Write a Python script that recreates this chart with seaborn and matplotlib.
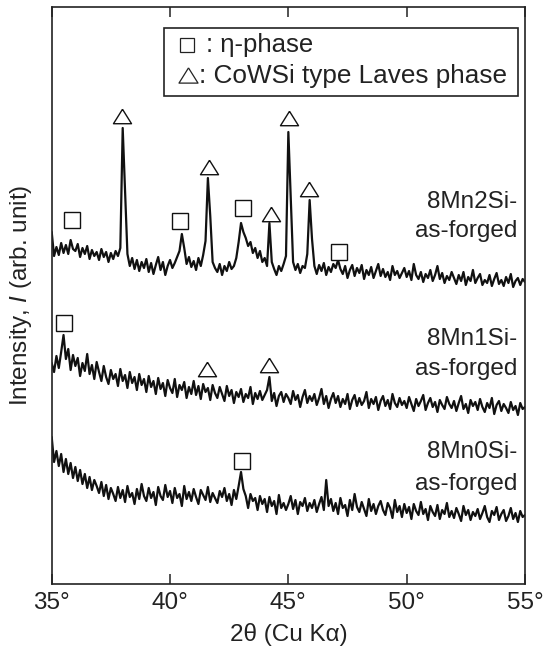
import numpy as np
import pandas as pd
import matplotlib
matplotlib.use("Agg")
import matplotlib.pyplot as plt
from matplotlib.patches import Rectangle
from matplotlib.lines import Line2D
import seaborn as sns

# ---------------- data ----------------
two_theta = [round(35 + 0.1 * i, 1) for i in range(201)]

int_8mn2si = [
    352, 328, 337, 329, 341, 331, 339, 330, 344, 335,
    333, 340, 327, 336, 330, 338, 325, 334, 328, 332,
    324, 335, 327, 332, 322, 331, 325, 333, 328, 336,
    456, 392, 330, 318, 326, 315, 324, 313, 322, 316,
    325, 312, 321, 310, 319, 327, 314, 322, 309, 318,
    324, 316, 321, 327, 333, 350, 336, 320, 327, 317,
    323, 314, 326, 318, 329, 343, 406, 368, 322, 316,
    312, 320, 309, 318, 313, 322, 315, 318, 326, 342,
    361, 352, 346, 338, 342, 331, 336, 326, 333, 322,
    326, 318, 361, 322, 315, 309, 318, 313, 320, 328,
    452, 388, 322, 314, 320, 311, 318, 316, 330, 384,
    345, 318, 310, 319, 313, 321, 309, 317, 312, 320,
    316, 324, 315, 310, 318, 306, 314, 319, 308, 316,
    311, 319, 305, 314, 309, 317, 306, 313, 320, 308,
    315, 307, 312, 304, 318, 309, 313, 306, 311, 316,
    307, 313, 304, 320, 309, 305, 312, 302, 310, 306,
    314, 303, 309, 318, 305, 311, 301, 308, 304, 312,
    306, 300, 309, 303, 312, 299, 307, 303, 314, 301,
    306, 310, 299, 304, 301, 309, 298, 305, 311, 300,
    304, 298, 307, 301, 310, 297, 303, 306, 299, 305,
    302,
]

int_8mn1si = [
    221, 212, 228, 216, 232, 249, 225, 235, 214, 229,
    218, 226, 208, 221, 213, 230, 210, 219, 205, 222,
    212, 203, 218, 207, 200, 214, 205, 210, 198, 215,
    203, 209, 196, 212, 201, 207, 194, 210, 199, 205,
    192, 208, 197, 203, 190, 206, 195, 201, 188, 204,
    196, 191, 205, 187, 199, 194, 202, 186, 197, 190,
    203, 189, 198, 185, 200, 192, 196, 184, 199, 191,
    186, 197, 190, 183, 198, 188, 194, 181, 192, 187,
    195, 182, 190, 186, 197, 180, 191, 185, 193, 184,
    189, 194, 207, 183, 191, 178, 188, 192, 182, 190,
    186, 180, 193, 184, 189, 177, 187, 194, 181, 188,
    183, 190, 179, 186, 195, 180, 188, 176, 185, 191,
    181, 188, 177, 185, 180, 190, 175, 184, 189, 178,
    186, 179, 183, 192, 176, 185, 180, 187, 174, 183,
    188, 178, 184, 175, 190, 181, 177, 186, 179, 183,
    176, 187, 180, 173, 185, 178, 183, 189, 174, 181,
    186, 177, 182, 172, 184, 179, 175, 187, 180, 176,
    183, 173, 181, 188, 175, 180, 171, 184, 178, 182,
    174, 185, 177, 172, 181, 176, 186, 170, 179, 183,
    173, 180, 176, 171, 182, 174, 178, 169, 181, 175,
    177,
]

int_8mn0si = [
    147, 122, 133, 118, 130, 112, 125, 110, 121, 106,
    117, 103, 114, 100, 110, 96, 107, 94, 104, 98,
    91, 102, 88, 99, 85, 96, 90, 83, 97, 86,
    94, 82, 98, 87, 91, 80, 95, 85, 100, 88,
    83, 96, 86, 92, 79, 97, 88, 84, 99, 87,
    93, 81, 96, 86, 90, 78, 98, 85, 92, 83,
    95, 87, 80, 94, 89, 84, 97, 82, 91, 86,
    81, 93, 87, 96, 83, 90, 79, 94, 85, 98,
    112, 95, 88, 76, 90, 83, 86, 74, 88, 80,
    85, 72, 87, 78, 83, 70, 89, 76, 81, 74,
    80, 88, 75, 84, 70, 82, 78, 86, 73, 81,
    76, 84, 72, 80, 87, 74, 104, 78, 85, 73,
    81, 70, 86, 76, 79, 68, 84, 74, 90, 77,
    72, 82, 75, 68, 85, 73, 80, 70, 78, 83,
    74, 69, 81, 76, 66, 84, 72, 78, 67, 80,
    71, 77, 65, 80, 73, 69, 82, 70, 75, 64,
    78, 72, 68, 79, 65, 74, 70, 81, 67, 73,
    66, 76, 70, 63, 78, 69, 74, 64, 72, 68,
    75, 65, 71, 78, 67, 62, 73, 69, 77, 64,
    70, 74, 63, 68, 76, 65, 71, 62, 73, 67,
    69,
]

# phase markers
eta_x = [35.86, 40.42, 43.08, 47.14, 35.52, 43.05]
eta_y = [364.5, 363, 376, 332, 261, 123]
laves_x = [37.97, 41.65, 44.26, 45.03, 45.89, 41.56, 44.20]
laves_y = [468, 417, 370, 466, 395.5, 215.5, 219]

sample_names = ["8Mn2Si-", "8Mn1Si-", "8Mn0Si-"]
sample_sub = "as-forged"
name_y = [376, 239, 126]
sub_y = [347, 209, 94]

xtick_vals = [35, 40, 45, 50, 55]
xtick_labels = ["35°", "40°", "45°", "50°", "55°"]

legend_texts = [": η-phase", ": CoWSi type Laves phase"]

# ---------------- plotting ----------------
sns.set_style("ticks")
FONT = ["Liberation Sans", "DejaVu Sans"]
plt.rcParams["font.family"] = FONT
plt.rcParams["mathtext.fontset"] = "custom"
plt.rcParams["mathtext.it"] = "Liberation Sans:italic"
plt.rcParams["mathtext.rm"] = "Liberation Sans"

FS = 17.5
INK = "#222222"
fig = plt.figure(figsize=(5.53, 6.48), dpi=100)
W, H = 553, 648
L, R, T, B = 51.7, 525, 7, 584
ax = fig.add_axes([L / W, (H - B) / H, (R - L) / W, (B - T) / H])

df = pd.DataFrame({
    "two_theta": two_theta * 3,
    "intensity": int_8mn2si + int_8mn1si + int_8mn0si,
    "sample": ["8Mn2Si"] * 201 + ["8Mn1Si"] * 201 + ["8Mn0Si"] * 201,
})
sns.lineplot(data=df, x="two_theta", y="intensity", units="sample",
             estimator=None, color="#111111", lw=1.6, ax=ax, legend=False)

ax.plot(eta_x, eta_y, ls="none", marker="s", ms=11.5, mfc="white",
        mec="#111111", mew=1.0, zorder=3)
tri = [(0, 0.8), (-1, -0.8), (1, -0.8), (0, 0.8)]
ax.plot(laves_x, laves_y, ls="none", marker=tri, ms=13, mfc="white",
        mec="#111111", mew=1.0, zorder=3)

for nm, yn, ys in zip(sample_names, name_y, sub_y):
    ax.text(54.66, yn, nm, ha="right", va="baseline", fontsize=FS, color=INK)
    ax.text(54.66, ys, sample_sub, ha="right", va="baseline", fontsize=FS, color=INK)

ax.set_xlim(35, 55)
ax.set_ylim(0, 577)
ax.set_xticks(xtick_vals)
ax.set_xticklabels(xtick_labels)
ax.set_yticks([])
ax.tick_params(axis="x", direction="in", top=True, length=7, width=1.1,
               labelsize=FS, pad=6, colors=INK)
for s in ax.spines.values():
    s.set_visible(True)
    s.set_linewidth(1.2)
    s.set_color(INK)

ax.set_xlabel("2θ (Cu Kα)", fontsize=FS, color=INK, labelpad=6)
ax.set_ylabel("Intensity, $I$ (arb. unit)", fontsize=FS, color=INK)
ax.yaxis.set_label_coords(-0.038, 0.5)

# legend box (figure pixel coords)
def fx(px):
    return px / W

def fy(py):
    return (H - py) / H

fig.patches.append(Rectangle((fx(164), fy(96)), fx(518) - fx(164), fy(28) - fy(96),
                             transform=fig.transFigure, fill=False,
                             lw=1.2, ec=INK))
fig.lines.append(Line2D([fx(186.5)], [fy(44.5)], transform=fig.transFigure,
                        ls="none", marker="s", ms=9.6, mfc="none", mec=INK, mew=0.9))
fig.lines.append(Line2D([fx(187.5)], [fy(75)], transform=fig.transFigure,
                        ls="none", marker=tri, ms=13.7, mfc="none", mec=INK, mew=0.9))
fig.text(fx(206), fy(52), legend_texts[0], fontsize=18.5,
         ha="left", va="baseline", color=INK)
fig.text(fx(199), fy(83), legend_texts[1], fontsize=18.8,
         ha="left", va="baseline", color=INK)

fig.savefig("out.png", dpi=100)
